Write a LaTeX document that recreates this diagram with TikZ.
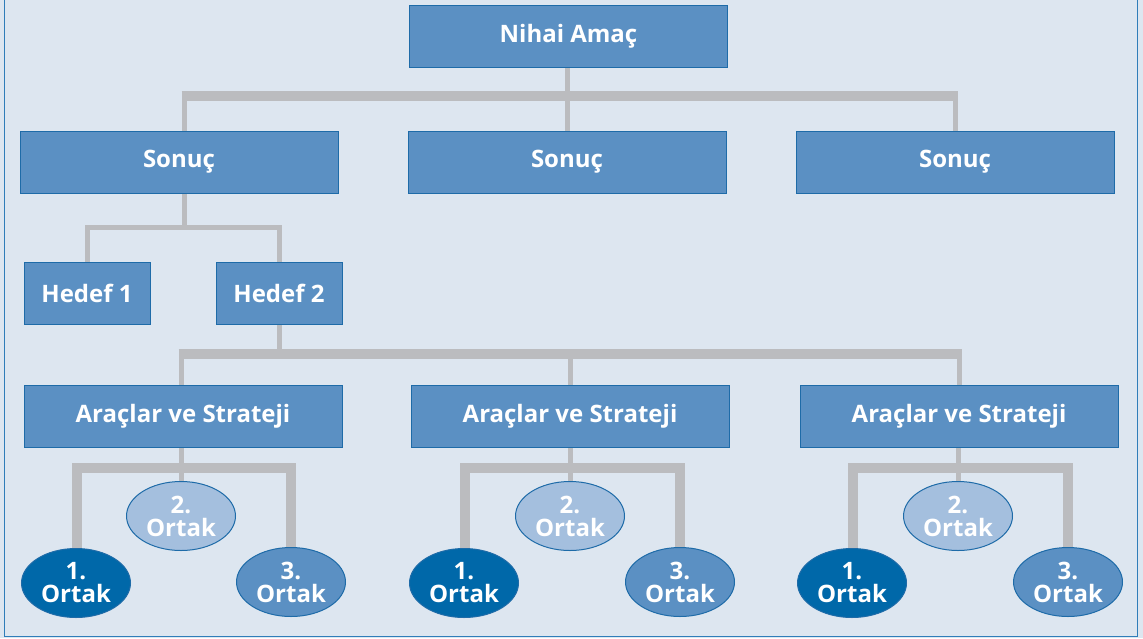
\documentclass[tikz,border=0pt]{standalone}
\usepackage{fontspec}
\setmainfont{Open Sans}
\usetikzlibrary{shapes.geometric,backgrounds}
\definecolor{bgc}{HTML}{DDE6F0}
\definecolor{framec}{HTML}{2F7DB9}
\definecolor{boxc}{HTML}{5B90C3}
\definecolor{edgec}{HTML}{1E6BA8}
\definecolor{darkc}{HTML}{0068A9}
\definecolor{lightc}{HTML}{A4BFDE}
\definecolor{linec}{HTML}{BBBCBF}
\tikzset{
  txt/.style={text=white,font=\fontsize{24}{23}\selectfont\bfseries,align=center},
  bigbox/.style={txt,draw=edgec,line width=1pt,fill=boxc,rectangle,minimum width=318pt,minimum height=62pt,inner sep=0pt},
  smallbox/.style={bigbox,minimum width=126pt},
  partner/.style={txt,ellipse,draw=edgec,line width=1pt,minimum width=109pt,minimum height=69pt,inner sep=0pt},
  p1/.style={partner,fill=darkc},
  p2/.style={partner,fill=lightc},
  p3/.style={partner,fill=boxc},
  thinl/.style={draw=linec,line width=5pt},
  thickl/.style={draw=linec,line width=10pt,line join=miter},
}
\begin{document}
\begin{tikzpicture}[x=1pt,y=-1pt]
\useasboundingbox (0,0) rectangle (1143,638);
\begin{pgfonlayer}{background}
\fill[bgc] (0,0) rectangle (1143,638);
\end{pgfonlayer}
\draw[framec,line width=1.5pt] (4.5,-2) -- (4.5,636.5) -- (1137.5,636.5) -- (1137.5,-2);

% nodes
\node[bigbox] (goal) at (568.5,36.5) {Nihai Amaç};
\node[bigbox] (s1) at (179,162) {Sonuç};
\node[bigbox] (s2) at (567,162) {Sonuç};
\node[bigbox] (s3) at (955,162) {Sonuç};
\node[smallbox] (h1) at (87,293) {Hedef 1};
\node[smallbox] (h2) at (279,293) {Hedef 2};
\node[bigbox] (a1) at (183,416) {Araçlar ve Strateji};
\node[bigbox] (a2) at (570,416) {Araçlar ve Strateji};
\node[bigbox] (a3) at (959,416) {Araçlar ve Strateji};

\node[p2] (b2) at (181,516) {2.\\Ortak};
\node[p1] (b1) at (76,583) {1.\\Ortak};
\node[p3] (b3) at (291,582) {3.\\Ortak};

\node[p2] (c2) at (570,516) {2.\\Ortak};
\node[p1] (c1) at (464,583) {1.\\Ortak};
\node[p3] (c3) at (680,582) {3.\\Ortak};

\node[p2] (d2) at (958,516) {2.\\Ortak};
\node[p1] (d1) at (852,583) {1.\\Ortak};
\node[p3] (d3) at (1068,582) {3.\\Ortak};

\coordinate (top) at (569,96);
\coordinate (mid) at (279,354);
\coordinate (hc) at (184,227.5);

\begin{pgfonlayer}{background}
% level 1
\draw[thinl] (s2.north |- goal.south) -- (s2.north);
\draw[thinl] ([xshift=5pt]s1.north) -- ([xshift=5pt]s1.north |- top);
\draw[thinl] (s3.north) -- (s3.north |- top);
\draw[thickl,shorten <=-2.5pt,shorten >=-2.5pt] ([xshift=5pt]s1.north |- top) -- (s3.north |- top);
% level 2
\draw[thinl] ([xshift=5pt]s1.south) -- ([xshift=5pt]s1.south |- hc);
\draw[thinl,line join=miter] (h1.north) |- (hc) -| (h2.north);
% level 3
\draw[thinl] (h2.south) -- (mid);
\draw[thinl] ([xshift=-2pt]a1.north) -- ([xshift=-2pt]a1.north |- mid);
\draw[thinl] (a2.north) -- (a2.north |- mid);
\draw[thinl] (a3.north) -- (a3.north |- mid);
\draw[thickl,shorten <=-2.5pt,shorten >=-2.5pt] ([xshift=-2pt]a1.north |- mid) -- (a3.north |- mid);
% partners
\foreach \a/\x/\y/\z in {a1/b1/b2/b3,a2/c1/c2/c3,a3/d1/d2/d3}{
  \draw[thinl] (\y.north |- \a.south) -- ([yshift=-4pt]\y.north);
  \draw[thickl,shorten <=-4pt,shorten >=-4pt] ([xshift=1pt]\x.north) |- ([yshift=-20pt]\a.south) -| (\z.north);
}
\end{pgfonlayer}
\end{tikzpicture}
\end{document}
